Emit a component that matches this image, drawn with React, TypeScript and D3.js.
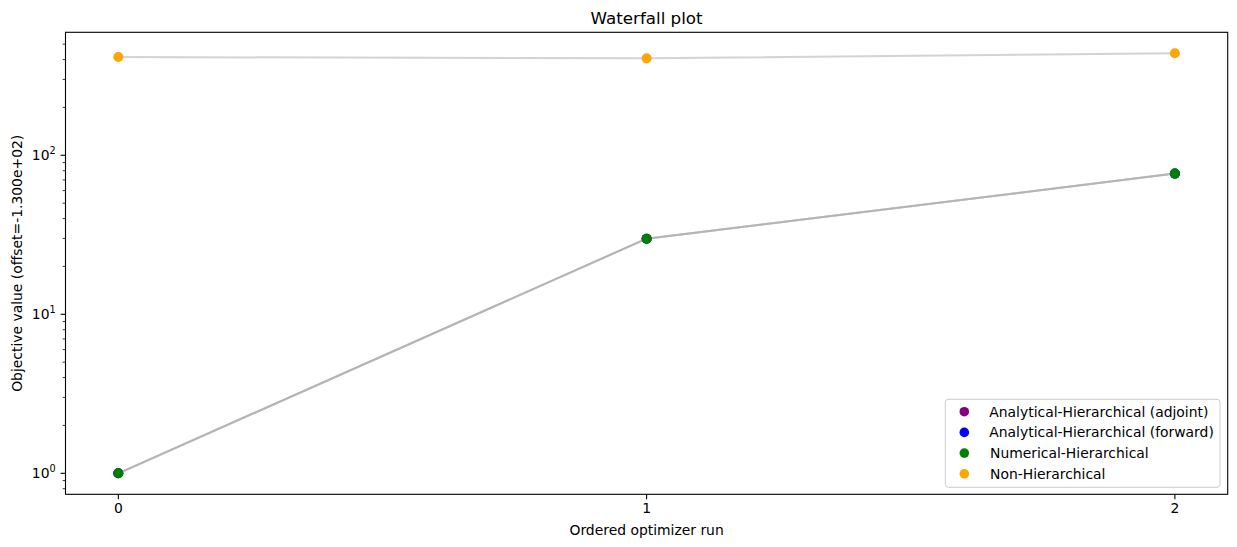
import React from "react";
import * as d3 from "d3";

const runs = [0, 1, 2];
const seriesNames = [
    "Analytical-Hierarchical (adjoint)",
    "Analytical-Hierarchical (forward)",
    "Numerical-Hierarchical",
    "Non-Hierarchical",
];
const seriesColors = ["purple", "blue", "green", "orange"];
const adjointValues = [1.0, 29.9, 76.7];
const forwardValues = [1.0, 29.9, 76.7];
const numericalValues = [1.0, 29.9, 76.7];
const nonHierValues = [415, 407, 438];
const seriesValues = [adjointValues, forwardValues, numericalValues, nonHierValues];
const xTicks = [0, 1, 2];
const yMajorTicks = [1, 10, 100];

const width = 1237;
const height = 547;
const marginLeft = 65.5;
const marginRight = 9.3;
const marginTop = 32.3;
const marginBottom = 52.7;
const font = "'DejaVu Sans', sans-serif";

export default function App() {
    const innerW = width - marginLeft - marginRight;
    const innerH = height - marginTop - marginBottom;

    // matplotlib style 5% margins on both axes (log space for y)
    const all = seriesValues.flat();
    const lo = Math.log10(d3.min(all) as number);
    const hi = Math.log10(d3.max(all) as number);
    const pad = (hi - lo) * 0.05;
    const y = d3
        .scaleLog()
        .domain([Math.pow(10, lo - pad), Math.pow(10, hi + pad)])
        .range([innerH, 0]);
    const x = d3.scaleLinear().domain([-0.1, 2.1]).range([0, innerW]);

    const line = d3
        .line<number>()
        .x((_, i) => x(runs[i]))
        .y((d) => y(d));

    const [yMin, yMax] = y.domain();
    const minorTicks: number[] = [];
    for (let e = -1; e <= 3; e++) {
        for (let m = 2; m <= 9; m++) {
            const v = m * Math.pow(10, e);
            if (v >= yMin && v <= yMax) minorTicks.push(v);
        }
    }

    const legendRight = innerW - 7.7;
    const legendW = 274.7;
    const legendH = 88;
    const legendX = legendRight - legendW;
    const legendY = innerH - 7 - legendH;

    return (
        <svg
            width={width}
            height={height}
            style={{ position: "absolute", top: 0, left: 0, background: "white" }}
            fontFamily={font}
        >
            <text x={marginLeft + innerW / 2} y={24} textAnchor="middle" fontSize={16.7}>
                Waterfall plot
            </text>
            <g transform={`translate(${marginLeft},${marginTop})`}>
                {seriesValues.map((vals, i) => (
                    <path
                        key={"l" + i}
                        d={line(vals) as string}
                        fill="none"
                        stroke="#acacac"
                        strokeOpacity={0.53}
                        strokeWidth={2}
                    />
                ))}
                {seriesValues.map((vals, i) =>
                    vals.map((v, j) => (
                        <circle
                            key={`p${i}-${j}`}
                            cx={x(runs[j])}
                            cy={y(v)}
                            r={5}
                            fill={seriesColors[i]}
                        />
                    ))
                )}
                <rect
                    x={0}
                    y={0}
                    width={innerW}
                    height={innerH}
                    fill="none"
                    stroke="black"
                    strokeWidth={1.1}
                />
                {xTicks.map((t) => (
                    <g key={"x" + t} transform={`translate(${x(t)},${innerH})`}>
                        <line y2={4.9} stroke="black" strokeWidth={1.1} />
                        <text y={18.7} textAnchor="middle" fontSize={13.9}>
                            {t}
                        </text>
                    </g>
                ))}
                {minorTicks.map((t) => (
                    <line
                        key={"m" + t}
                        x1={-2.8}
                        x2={0}
                        y1={y(t)}
                        y2={y(t)}
                        stroke="black"
                        strokeWidth={0.8}
                    />
                ))}
                {yMajorTicks.map((t) => (
                    <g key={"y" + t} transform={`translate(0,${y(t)})`}>
                        <line x1={-4.9} stroke="black" strokeWidth={1.1} />
                        <text x={-9.8} y={5} textAnchor="end" fontSize={13.9}>
                            10
                            <tspan dy={-6} fontSize={9.7}>
                                {Math.round(Math.log10(t))}
                            </tspan>
                        </text>
                    </g>
                ))}
                <text
                    x={innerW / 2}
                    y={innerH + 40.5}
                    textAnchor="middle"
                    fontSize={13.9}
                >
                    Ordered optimizer run
                </text>
                <text
                    transform={`translate(${22 - marginLeft},${innerH / 2}) rotate(-90)`}
                    textAnchor="middle"
                    fontSize={13.9}
                >
                    Objective value (offset=-1.300e+02)
                </text>
                <g transform={`translate(${legendX},${legendY})`}>
                    <rect
                        width={legendW}
                        height={legendH}
                        rx={3}
                        fill="white"
                        fillOpacity={0.8}
                        stroke="#cccccc"
                        strokeWidth={1}
                    />
                    {seriesNames.map((name, i) => (
                        <g key={name} transform={`translate(0,${12.4 + i * 20.7})`}>
                            <circle cx={19} cy={0} r={4.8} fill={seriesColors[i]} />
                            <text x={i < 2 ? 44 : 44.7} y={4.9} fontSize={13.9}>
                                {name}
                            </text>
                        </g>
                    ))}
                </g>
            </g>
        </svg>
    );
}
